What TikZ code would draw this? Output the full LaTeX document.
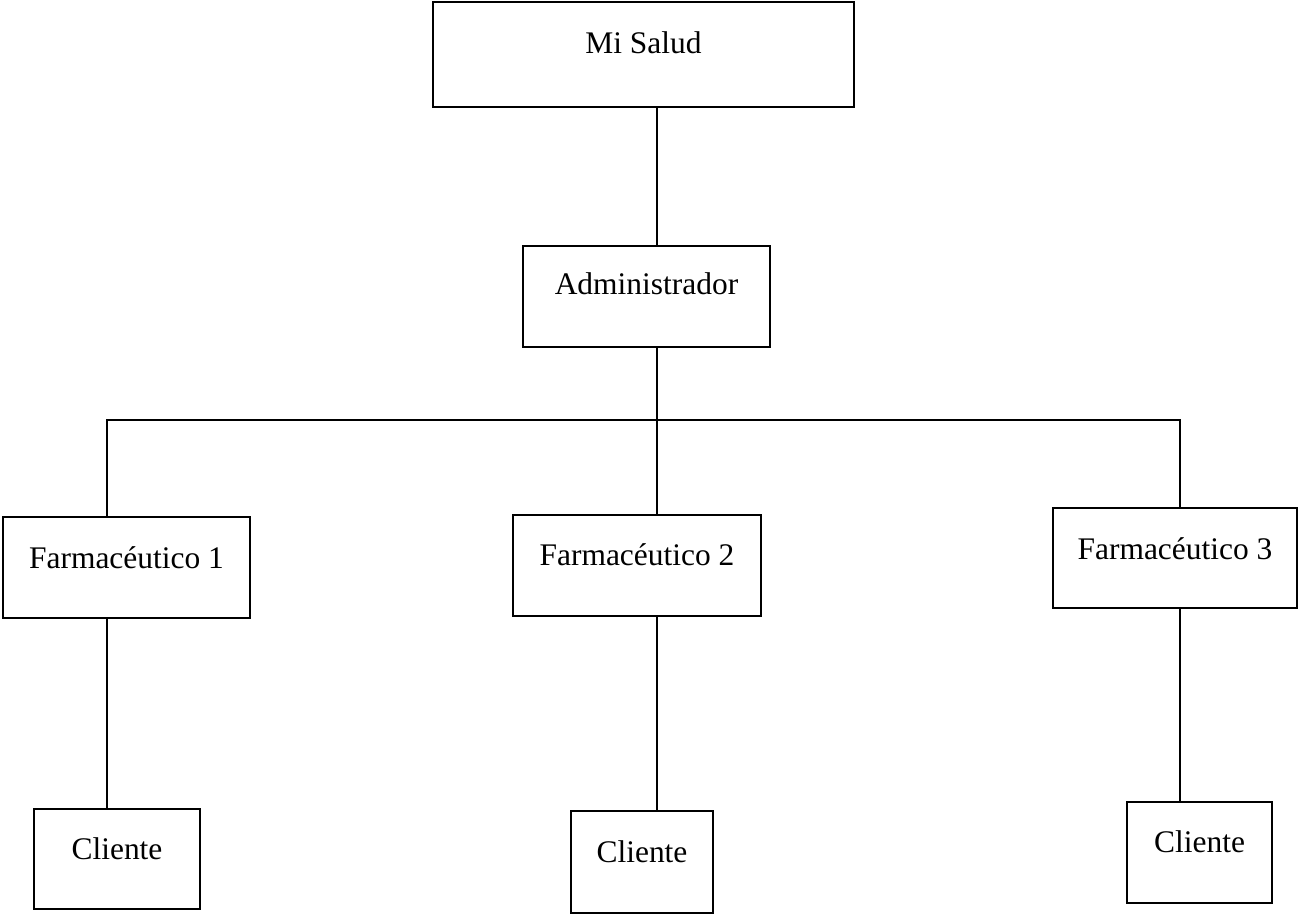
\documentclass[tikz,border=0pt]{standalone}
\usepackage{fontspec}
\setmainfont{Liberation Serif}
\usepackage{tikz}
\usetikzlibrary{arrows,shapes,positioning}

\begin{document}
\begin{tikzpicture}[
        caja/.style={draw,line width=1.3pt,rectangle,inner xsep=0pt,inner ysep=0pt,
          font=\fontsize{17.9}{21}\selectfont},
        enlace/.style={line width=1.3pt}]
        \useasboundingbox (0,0) rectangle (25.98,-18.28);

        \node[caja,minimum width=8.42cm,text height=1.04cm,text depth=1.06cm] (salud) at (12.87,-1.09) {Mi Salud};
        \node[caja,minimum width=4.94cm,text height=0.98cm,text depth=1.04cm] (admin) at (12.93,-5.93) {Administrador};

        \node[caja,minimum width=4.94cm,text height=1.02cm,text depth=1.00cm] (farm1) at (2.53,-11.35) {Farmacéutico 1};
        \node[caja,minimum width=4.96cm,text height=1.00cm,text depth=1.02cm] (farm2) at (12.74,-11.31) {Farmacéutico 2};
        \node[caja,minimum width=4.88cm,text height=1.02cm,text depth=0.98cm] (farm3) at (23.50,-11.16) {Farmacéutico 3};

        \node[caja,minimum width=3.32cm,text height=1.00cm,text depth=1.00cm] (cli1) at (2.34,-17.18) {Cliente};
        \node[caja,minimum width=2.84cm,text height=1.02cm,text depth=1.02cm] (cli2) at (12.84,-17.24) {Cliente};
        \node[caja,minimum width=2.90cm,text height=1.00cm,text depth=1.02cm] (cli3) at (23.99,-17.05) {Cliente};

        % bus below the administrator
        \coordinate (busL) at (2.14,-8.4);
        \coordinate (busM) at (13.14,-8.4);
        \coordinate (busR) at (23.6,-8.4);

        % Mi Salud to administrator
        \draw[enlace] (salud.south -| busM) -- (admin.north -| busM);

        % administrator to pharmacists
        \draw[enlace] (admin.south -| busM) -- (farm2.north -| busM);
        \draw[enlace] (farm1.north -| busL) -- (busL) -- (busR) -- (farm3.north -| busR);

        % pharmacists to clients
        \draw[enlace] (farm1.south -| busL) -- (cli1.north -| busL);
        \draw[enlace] (farm2.south -| busM) -- (cli2.north -| busM);
        \draw[enlace] (farm3.south -| busR) -- (cli3.north -| busR);

      \end{tikzpicture}
\end{document}
